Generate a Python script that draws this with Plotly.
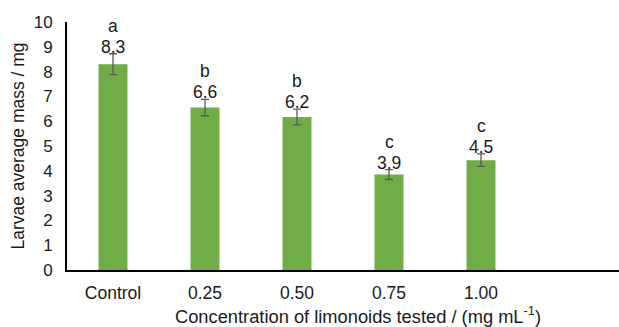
import plotly.graph_objects as go

categories = ["Control", "0.25", "0.50", "0.75", "1.00"]
means = [8.3, 6.55, 6.17, 3.85, 4.43]
errors = [0.42, 0.33, 0.32, 0.2, 0.25]
value_labels = ["8.3", "6.6", "6.2", "3.9", "4.5"]
letters = ["a", "b", "b", "c", "c"]
y_ticks = list(range(0, 11))

font_family = "Liberation Sans, Arial, sans-serif"
text_color = "#1a1a1a"

fig = go.Figure()
fig.add_trace(go.Bar(
    x=categories, y=means,
    marker=dict(color="#70AD47", line=dict(width=0)),
    width=0.315,
    error_y=dict(type="data", array=errors, visible=True,
                 color="#595959", thickness=1.3, width=4),
    hoverinfo="skip",
))

annotations = []
for i, (m, e, v, l) in enumerate(zip(means, errors, value_labels, letters)):
    annotations.append(dict(x=i, y=m + e, text=v, showarrow=False,
                            xref="x", yref="y",
                            yanchor="bottom", yshift=-5,
                            font=dict(size=17.5, family=font_family, color=text_color)))
    annotations.append(dict(x=i, y=m + e, text=l, showarrow=False,
                            xref="x", yref="y",
                            yanchor="bottom", yshift=16,
                            font=dict(size=17.5, family=font_family, color=text_color)))

annotations.append(dict(
    x=0.528, y=0, xref="paper", yref="paper", yanchor="top", yshift=-31,
    text="Concentration of limonoids tested / (mg mL<sup>-1</sup>)", showarrow=False,
    font=dict(size=18.3, family=font_family, color=text_color)))

fig.update_layout(
    width=619, height=327,
    margin=dict(l=67, r=0, t=22, b=57, autoexpand=False),
    paper_bgcolor="white", plot_bgcolor="white",
    showlegend=False,
    annotations=annotations,
    font=dict(family=font_family, color=text_color),
)
fig.update_xaxes(
    type="category", range=[-0.5, 5.5],
    showline=True, linecolor="black", linewidth=2,
    showgrid=False, ticks="", ticklabelstandoff=6,
    tickfont=dict(size=17.5, family=font_family, color=text_color),
)
fig.update_yaxes(
    range=[0, 10], tickvals=y_ticks,
    showline=True, linecolor="black", linewidth=2,
    showgrid=False, zeroline=False, ticks="", ticklabelstandoff=9,
    tickfont=dict(size=17, family=font_family, color=text_color),
    title=dict(text="Larvae average mass / mg",
               font=dict(size=17.5, family=font_family, color=text_color), standoff=5),
)

fig.write_html("out.html", config={"displayModeBar": False},
               post_script="document.body.style.margin='0px';")
